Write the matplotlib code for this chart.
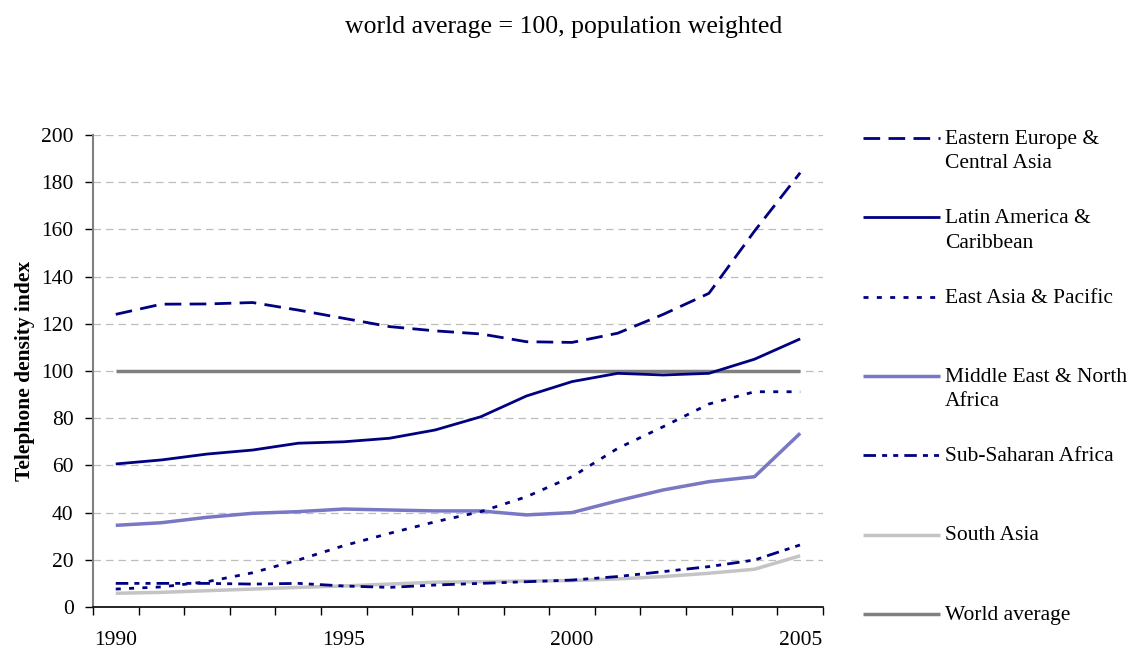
import matplotlib.pyplot as plt
import numpy as np

plt.rcParams["font.family"] = ["Liberation Serif", "DejaVu Serif"]

years = list(range(1990, 2006))

eastern_europe = [124.0, 128.3, 128.4, 129.0, 125.8, 122.3, 118.8, 117.0, 115.7, 112.4, 112.1, 116.0, 124.0, 132.9, 159.3, 184.0]
latin_america = [60.6, 62.3, 64.8, 66.5, 69.4, 70.0, 71.5, 75.0, 80.6, 89.4, 95.5, 99.0, 98.3, 99.0, 105.0, 113.6]
east_asia = [7.6, 8.5, 10.7, 14.5, 19.9, 26.0, 31.2, 36.1, 40.4, 46.7, 55.2, 67.2, 76.4, 86.0, 91.2, 91.2]
middle_east = [34.6, 35.7, 38.0, 39.7, 40.4, 41.5, 41.1, 40.7, 40.7, 39.0, 40.0, 45.0, 49.6, 53.1, 55.2, 73.6]
sub_saharan = [10.0, 10.0, 10.0, 9.7, 10.0, 8.9, 8.3, 9.3, 10.0, 10.7, 11.4, 12.9, 15.0, 17.1, 19.9, 26.3]
south_asia = [5.8, 6.2, 6.9, 7.6, 8.3, 8.9, 9.7, 10.5, 10.7, 11.0, 11.2, 11.9, 12.9, 14.3, 16.0, 21.7]
world_avg = [100] * 16

labels = [
    "Eastern Europe &\nCentral Asia",
    "Latin America &\nCaribbean",
    "East Asia & Pacific",
    "Middle East & North\nAfrica",
    "Sub-Saharan Africa",
    "South Asia",
    "World average",
]
series = [eastern_europe, latin_america, east_asia, middle_east, sub_saharan, south_asia, world_avg]

navy = "#000080"
styles = [
    dict(color=navy, lw=2, dashes=(6, 3)),
    dict(color=navy, lw=2),
    dict(color=navy, lw=2, dashes=(1.8, 3)),
    dict(color="#7878c4", lw=2.5),
    dict(color=navy, lw=2, dashes=(4.5, 2.2, 1.8, 2.2, 1.8, 2.2)),
    dict(color="#c4c4c4", lw=2.5),
    dict(color="#808080", lw=2.5),
]
order = [6, 5, 3, 4, 2, 1, 0]
fs = 15.5

fig = plt.figure(figsize=(11.28, 6.48), dpi=100)
ax = fig.add_axes([0.0824, 0.0633, 0.6472, 0.7284])

for i in order:
    ax.plot(years, series[i], solid_capstyle="butt", dash_capstyle="butt", **styles[i])

ax.set_xlim(1989.5, 2005.5)
ax.set_ylim(0, 200)
ax.set_yticks(np.arange(0, 201, 20))
ax.yaxis.grid(True, color="#bdbdbd", linestyle=(0, (6, 4)), lw=0.9)
ax.set_axisbelow(True)

ax.set_xticks([1990, 1995, 2000, 2005])
ax.set_xticks(np.arange(1989.5, 2006, 1), minor=True)
ax.tick_params(axis="x", which="major", length=0, pad=17, labelsize=fs)
ax.tick_params(axis="x", which="minor", length=6, width=1, direction="out")
ax.tick_params(axis="y", length=6, width=1, labelsize=fs, pad=8)

for side in ["top", "right"]:
    ax.spines[side].set_visible(False)
ax.spines["left"].set_color("#808080")
ax.spines["left"].set_linewidth(1.5)
ax.spines["bottom"].set_linewidth(1.2)

ax.set_ylabel("Telephone density index", fontsize=fs, fontweight="bold", labelpad=4)

fig.text(0.5, 0.958, "world average = 100, population weighted", ha="center", va="center", fontsize=18.5)

# legend drawn in its own axes, in pixel units of the figure
lax = fig.add_axes([0, 0, 1, 1], facecolor="none")
lax.set_xlim(0, 1128)
lax.set_ylim(648, 0)
lax.axis("off")
for k, lab in enumerate(labels):
    y0 = 138 + k * 79.3
    lax.plot([863, 940], [y0, y0], solid_capstyle="butt", dash_capstyle="butt", **styles[k])
    lax.text(945, y0 - 8, lab, ha="left", va="top", fontsize=fs, linespacing=1.38)

fig.savefig("out.png", dpi=100)
